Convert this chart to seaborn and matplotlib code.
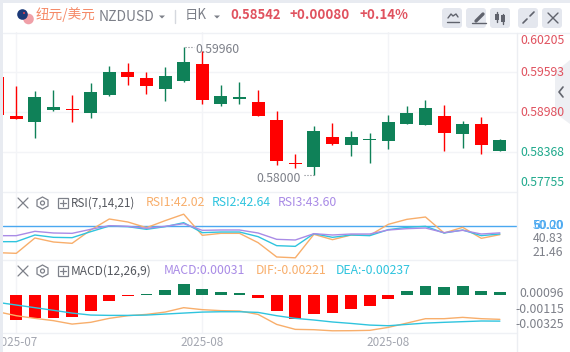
import numpy as np
import matplotlib
matplotlib.use("Agg")
import matplotlib.pyplot as plt
from matplotlib.patches import Circle, FancyBboxPatch, Polygon, Rectangle
import seaborn as sns

W, H = 570, 352
XLIM = (-0.715, 26.92)

# candle data, one entry per day, first one is cut off by the left edge
days = list(range(-1, 27))
opens = [0.59516, 0.58919, 0.58827, 0.59011, 0.59026, 0.58965, 0.59240, 0.59592, 0.59500, 0.59332, 0.59454, 0.59714,
         0.59102, 0.59179, 0.59133, 0.58858, 0.58200, 0.58139, 0.58598, 0.58475, 0.58552, 0.58536, 0.58796, 0.58781,
         0.58919, 0.58643, 0.58796, 0.58383]
closes = [0.58934, 0.58873, 0.59210, 0.59057, 0.59011, 0.59286, 0.59592, 0.59516, 0.59378, 0.59531, 0.59745, 0.59164,
          0.59225, 0.59210, 0.58919, 0.58230, 0.58184, 0.58689, 0.58490, 0.58598, 0.58567, 0.58827, 0.58965, 0.59041,
          0.58659, 0.58796, 0.58475, 0.58552]
highs = [0.59516, 0.59378, 0.59301, 0.59317, 0.59240, 0.59424, 0.59684, 0.59730, 0.59592, 0.59669, 0.59975, 0.59913,
         0.59393, 0.59439, 0.59317, 0.58995, 0.58337, 0.58766, 0.58812, 0.58689, 0.58659, 0.58934, 0.59072, 0.59164,
         0.59087, 0.58842, 0.58904, 0.58567]
lows = [0.58934, 0.58873, 0.58582, 0.58995, 0.58827, 0.58888, 0.59225, 0.59393, 0.59255, 0.59148, 0.59439, 0.59102,
        0.59072, 0.59102, 0.58919, 0.58169, 0.58123, 0.58016, 0.58475, 0.58307, 0.58200, 0.58414, 0.58796, 0.58781,
        0.58383, 0.58429, 0.58337, 0.58383]

rsi1 = [26.03, 25.44, 39.05, 35.50, 34.32, 46.15, 55.92, 53.25, 48.22, 54.44, 60.20, 41.42, 43.19, 43.19, 34.91, 22.20,
        21.46, 42.31, 37.57, 41.71, 41.42, 51.18, 55.62, 57.69, 43.49, 48.52, 38.76, 42.02]
rsi2 = [35.80, 35.80, 41.71, 39.64, 39.35, 44.67, 49.70, 49.11, 46.75, 49.11, 52.66, 43.79, 44.38, 44.38, 40.24, 32.25,
        31.65, 42.90, 39.64, 41.71, 41.12, 46.45, 48.52, 49.41, 43.49, 46.15, 41.12, 42.64]
rsi3 = [41.12, 41.12, 44.97, 43.49, 43.19, 46.75, 50.00, 49.41, 47.63, 49.41, 51.78, 45.86, 46.15, 46.15, 43.49, 37.87,
        37.28, 42.90, 41.71, 42.60, 42.60, 46.15, 47.34, 47.93, 43.79, 45.86, 42.60, 43.60]

macd_days = list(range(0, 27))
macd_hist = [-0.00227, -0.00209, -0.00209, -0.00200, -0.00145, -0.00055, -0.00009, 0.00009, 0.00045, 0.00096, 0.00055,
             0.00027, 0.00018, -0.00027, -0.00145, -0.00218, -0.00173, -0.00164, -0.00127, -0.00100, -0.00036, 0.00036,
             0.00082, 0.00073, 0.00082, 0.00036, 0.00031]
dif = [-0.00152, -0.00188, -0.00212, -0.00233, -0.00264, -0.00248, -0.00212, -0.00188, -0.00176, -0.00155, -0.00115,
       -0.00133, -0.00142, -0.00145, -0.00176, -0.00267, -0.00312, -0.00315, -0.00325, -0.00324, -0.00321, -0.00294,
       -0.00255, -0.00215, -0.00215, -0.00203, -0.00215, -0.00221]
dea = [-0.00067, -0.00091, -0.00115, -0.00139, -0.00164, -0.00182, -0.00185, -0.00185, -0.00182, -0.00173, -0.00164,
       -0.00155, -0.00152, -0.00152, -0.00158, -0.00188, -0.00212, -0.00227, -0.00245, -0.00258, -0.00273, -0.00279,
       -0.00267, -0.00255, -0.00248, -0.00242, -0.00236, -0.00237]

price_ticks = ["0.60205", "0.59593", "0.58980", "0.58368", "0.57755"]
date_ticks = [0, 10, 20]
date_labels = ["2025-07", "2025-08", "2025-08"]

# colours
RED = "#ff0000"
GREEN = "#0f8158"
TXT_RED = "#e0525f"
TXT_GREEN = "#1fa98c"
GRID = "#f3f4f7"
GREY = "#7d8089"
ORANGE = "#f8ae6b"
CYAN = "#2fc4de"
PURPLE = "#a98be6"
BLUE = "#4aa8f0"

sns.set_theme(style="white")
plt.rcParams["font.family"] = ["Noto Sans CJK SC", "DejaVu Sans"]
plt.rcParams["axes.unicode_minus"] = False

fig = plt.figure(figsize=(W / 100, H / 100), dpi=100, facecolor="white")


def panel(top, bottom):
    ax = fig.add_axes([3 / W, 1 - bottom / H, 514 / W, (bottom - top) / H])
    ax.set_xlim(*XLIM)
    ax.set_xticks(date_ticks)
    ax.set_xticklabels([])
    ax.tick_params(length=0)
    ax.grid(True, axis="x", color=GRID, lw=1)
    ax.set_axisbelow(True)
    for s in ax.spines.values():
        s.set_visible(False)
    return ax


# price panel
ax = panel(32, 192)
ax.set_ylim(0.57755, 0.60205)
ax.set_yticks([0.58368, 0.58980, 0.59593])
ax.set_yticklabels([])
ax.grid(True, axis="y", color=GRID, lw=1)
for d, o, c, hi, lo in zip(days, opens, closes, highs, lows):
    col = GREEN if c >= o else RED
    ax.vlines(d, lo, hi, color=col, lw=1)
    ax.bar(d, max(abs(c - o), 0.00005), bottom=min(o, c), width=0.69, color=col, lw=0)

# rsi panel
ax2 = panel(192, 260)
ax2.set_ylim(19.52, 79.89)
ax2.set_yticks([])
ax2.axhline(50, color=BLUE, lw=1)
for vals, col in [(rsi1, ORANGE), (rsi2, CYAN), (rsi3, PURPLE)]:
    sns.lineplot(x=days, y=vals, color=col, lw=1, ax=ax2, legend=False, errorbar=None)
ax2.set_xlim(*XLIM)
ax2.set_ylabel("")

# macd panel
ax3 = panel(260, 333)
directions = ["up" if v >= 0 else "down" for v in macd_hist]
sns.barplot(x=macd_days, y=macd_hist, hue=directions, palette={"up": GREEN, "down": RED}, native_scale=True,
            dodge=False, width=0.64, legend=False, linewidth=0, saturation=1, ax=ax3)
sns.lineplot(x=days, y=dif, color=ORANGE, lw=1, ax=ax3, legend=False, errorbar=None)
sns.lineplot(x=days, y=dea, color=CYAN, lw=1, ax=ax3, legend=False, errorbar=None)
ax3.set_xlim(*XLIM)
ax3.set_ylim(-0.00345, 0.00318)
ax3.set_yticks([])
ax3.set_ylabel("")

# overlay in pixels for the header, right labels and icons
ov = fig.add_axes([0, 0, 1, 1], facecolor="none")
ov.set_xlim(0, W)
ov.set_ylim(H, 0)
ov.axis("off")

BAND = "#e8ebf1"
ov.add_patch(Rectangle((0, 0), W, 2.5, color=BAND, lw=0))
ov.add_patch(Rectangle((0, 0), 2.5, H, color=BAND, lw=0))
for y in [32.5, 191.5, 260, 333]:
    ov.plot([3, 517 if y > 32.5 else W], [y, y], color="#eff1f5", lw=1)
ov.plot([516.8, 516.8], [33, H], color="#eceef2", lw=1)


def txt(x, y, s, color=GREY, size=9, ha="left", **kw):
    ov.text(x, y, s, color=color, fontsize=size, ha=ha, va="center", **kw)


# flags
ov.add_patch(Circle((28.5, 19), 5.3, color="#f0a0a8", lw=0))
ov.add_patch(Circle((22.5, 14.5), 5.3, color="#1c3a78", lw=0))
ov.add_patch(Circle((24, 13), 1, color="#e04050", lw=0))

txt(36, 15, "纽元/美元", "#f58a68", 9.8)
txt(99, 17, "NZDUSD", GREY, 10)
ov.add_patch(Polygon([[159, 15.5], [165, 15.5], [162, 18.5]], color=GREY, lw=0))
ov.plot([175, 175], [10, 23], color="#d5d8de", lw=1)
txt(185, 15, "日K", GREY, 9.6)
ov.add_patch(Polygon([[214, 15.5], [220, 15.5], [217, 18.5]], color=GREY, lw=0))
txt(230, 15, "0.58542", TXT_RED, 9.4, fontweight="bold")
txt(290, 15, "+0.00080", TXT_RED, 9.6, fontweight="bold")
txt(360, 15, "+0.14%", TXT_RED, 9.6, fontweight="bold")

# buttons
for x0 in [442, 466, 490, 518, 542]:
    ov.add_patch(FancyBboxPatch((x0 + 2, 10), 16, 16, boxstyle="round,pad=2,rounding_size=3", color="#e4e7ee", lw=0))
ICON = "#60636d"
ov.plot([448, 451, 453, 456, 458], [18, 14, 16, 14, 17], color=ICON, lw=1)
ov.plot([447, 459], [21.5, 21.5], color=ICON, lw=1)
ov.plot([476, 483], [21, 14], color=ICON, lw=2.4)
ov.plot([472, 486], [23, 23], color=ICON, lw=1)
ov.plot([497, 497], [12, 22], color=ICON, lw=1)
ov.add_patch(Rectangle((495, 14), 4, 6, color=ICON, lw=0))
ov.plot([503, 503], [14, 24], color=ICON, lw=1)
ov.add_patch(Rectangle((501, 15), 4, 7, color=ICON, lw=0))
ov.plot([523, 527], [23, 19], color=ICON, lw=1.2)
ov.plot([530, 534], [16, 12], color=ICON, lw=1.2)
ov.plot([548, 558], [13, 23], color=ICON, lw=1)
ov.plot([548, 558], [23, 13], color=ICON, lw=1)

# collapse tab
ov.add_patch(Polygon([[570, 60], [555, 72], [555, 113], [570, 124]], color="#eceef2", alpha=0.9, lw=0))
ov.plot([563, 559, 563], [87, 92, 97], color="#62656e", lw=1.2)

# price labels
for y, s, col in zip([40, 73, 113, 153, 183], price_ticks, [TXT_RED, TXT_RED, TXT_RED, TXT_GREEN, TXT_GREEN]):
    txt(520, y, s, col, 8.8)
txt(195, 49.5, "0.59960", GREY, 8.8)
ov.plot([185, 194], [47, 47], color=GREY, lw=0.8, ls=":")
txt(256, 178, "0.58000", GREY, 8.8)
ov.plot([304, 314], [175, 175], color=GREY, lw=0.8, ls=":")


# close + gear + box row of the indicators
def tools(y):
    ov.plot([18, 28], [y - 5, y + 5], color=GREY, lw=0.9)
    ov.plot([18, 28], [y + 5, y - 5], color=GREY, lw=0.9)
    ov.add_patch(Polygon([[42.5, y - 6], [48, y - 3], [48, y + 3], [42.5, y + 6], [37, y + 3], [37, y - 3]],
                         fill=False, ec=GREY, lw=0.9))
    ov.add_patch(Circle((42.5, y), 2, fill=False, ec=GREY, lw=0.9))
    ov.add_patch(Rectangle((57.5, y - 5), 10, 10, fill=False, ec=GREY, lw=0.9))
    ov.plot([59.5, 65.5], [y, y], color=GREY, lw=0.9)
    ov.plot([62.5, 62.5], [y - 3, y + 3], color=GREY, lw=0.9)


tools(203)
txt(71, 203, "RSI(7,14,21)", "#55585f", 8.4)
txt(146, 203, "RSI1:42.02", ORANGE, 8.8)
txt(212, 203, "RSI2:42.64", CYAN, 8.8)
txt(278, 203, "RSI3:43.60", PURPLE, 8.8)
tools(271)
txt(71, 271, "MACD(12,26,9)", "#55585f", 8.6)
txt(164, 271, "MACD:0.00031", PURPLE, 8.8)
txt(256, 271, "DIF:-0.00221", ORANGE, 8.8)
txt(336, 271, "DEA:-0.00237", CYAN, 8.8)

# indicator right labels, the two blue ones really do overlap
txt(533, 225.5, "50.00", BLUE, 8.8)
txt(533, 225.5, "60.20", BLUE, 8.8)
txt(533, 238.5, "40.83", GREY, 8.8)
txt(533, 252, "21.46", GREY, 8.8)
txt(519, 293.5, "0.00096", GREY, 8.8)
txt(515, 309.5, "-0.00115", GREY, 8.8)
txt(515, 324.5, "-0.00325", GREY, 8.8)

# date labels, left one is clipped by the band
clip = Rectangle((3, 333), 514, 19, transform=ov.transData)
for d, s in zip(date_ticks, date_labels):
    t = ov.text(16.3 + 18.6 * d, 342, s, color="#a3a6b0", fontsize=8.4, ha="center", va="center")
    t.set_clip_path(clip)
    t.set_clip_on(True)

fig.savefig("out.png", dpi=100)
